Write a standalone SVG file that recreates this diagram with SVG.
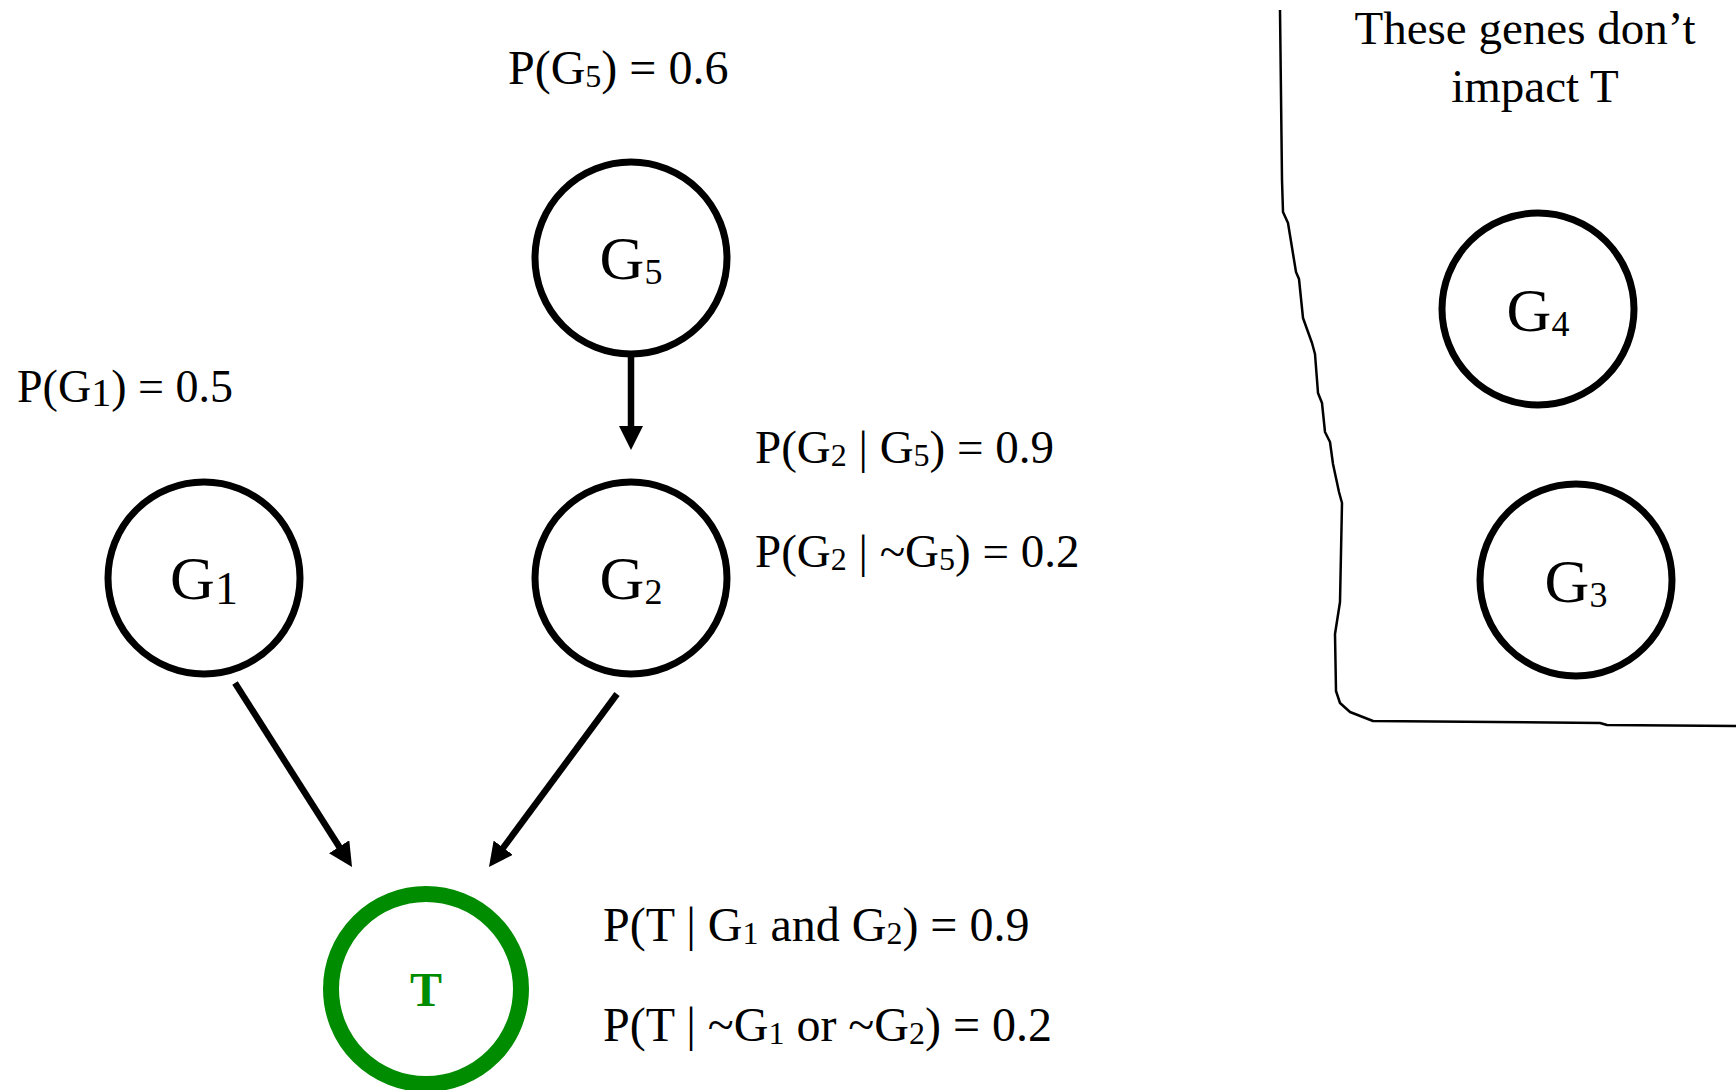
<svg xmlns="http://www.w3.org/2000/svg" width="1736" height="1090" viewBox="0 0 1736 1090">
<style>
  text { font-family: "Liberation Serif", "Times New Roman", serif; fill: #000; }
  .lbl { font-size: 48px; }
  .node { fill: #fff; stroke: #000; stroke-width: 7; }
  .nl { font-size: 62px; }
  .sub { font-size: 32px; }
  .nsub { font-size: 36px; }
  .edge { stroke: #000; stroke-width: 6.5; fill: none; }
</style>
<defs>
  <marker id="ah" viewBox="0 0 24 24" refX="4" refY="12" markerWidth="24" markerHeight="24" markerUnits="userSpaceOnUse" orient="auto">
    <path d="M0,0 L24,12 L0,24 z" fill="#000"/>
  </marker>
</defs>
<rect width="1736" height="1090" fill="#fff"/>

<g id="box">
  <path d="M1280,10 L1282,180 L1283,212 L1288,223 L1296,272 L1299,279 L1303,318 L1312,343 L1315,354 L1318,393 L1322,403 L1325,432 L1330,442 L1333,464 L1339,492 L1342,503 L1340,602 L1335,634 L1336,691 L1340,703 L1350,712 L1373,721 L1600,723 L1607,725 L1736,726" fill="none" stroke="#000" stroke-width="2.5" stroke-linejoin="round"/>
  <text x="1525" y="44" text-anchor="middle" style="font-size:47px">These genes don’t</text>
  <text x="1535" y="102" text-anchor="middle" style="font-size:47px">impact T</text>
</g>

<g id="connectors">
  <line class="edge" x1="631" y1="357" x2="631" y2="430" marker-end="url(#ah)"/>
  <line class="edge" x1="235" y1="683" x2="341.3" y2="850.1" marker-end="url(#ah)"/>
  <line class="edge" x1="617" y1="694" x2="500.9" y2="850.9" marker-end="url(#ah)"/>
</g>

<g id="G5">
  <circle class="node" cx="631" cy="258" r="96"/>
  <text class="nl" x="631" y="279" text-anchor="middle">G<tspan class="nsub" dy="5">5</tspan></text>
</g>
<g id="G1">
  <circle class="node" cx="204" cy="578" r="96"/>
  <text class="nl" x="204" y="599" text-anchor="middle">G<tspan style="font-size:46px" dy="5">1</tspan></text>
</g>
<g id="G2">
  <circle class="node" cx="631" cy="578" r="96"/>
  <text class="nl" x="631" y="599" text-anchor="middle">G<tspan class="nsub" dy="5">2</tspan></text>
</g>
<g id="T">
  <circle cx="426" cy="989" r="95" fill="#fff" stroke="#008C00" stroke-width="16"/>
  <text x="426" y="1006" text-anchor="middle" style="font-size:48px; font-weight:bold; fill:#008C00">T</text>
</g>
<g id="G4">
  <circle class="node" cx="1538" cy="309" r="96"/>
  <text class="nl" x="1538" y="331" text-anchor="middle">G<tspan class="nsub" dy="5">4</tspan></text>
</g>
<g id="G3">
  <circle class="node" cx="1576" cy="580" r="96"/>
  <text class="nl" x="1576" y="602" text-anchor="middle">G<tspan class="nsub" dy="5">3</tspan></text>
</g>

<g id="labels">
  <text class="lbl" x="508" y="84">P(G<tspan class="sub" dy="3">5</tspan><tspan dy="-3">) = 0.6</tspan></text>
  <text x="17" y="402" style="font-size:46px">P(G<tspan style="font-size:40px" dy="4">1</tspan><tspan dy="-4">) = 0.5</tspan></text>
  <text x="755" y="463" style="font-size:47px">P(G<tspan class="sub" dy="3">2</tspan><tspan dy="-3"> | G</tspan><tspan class="sub" dy="3">5</tspan><tspan dy="-3">) = 0.9</tspan></text>
  <text x="755" y="567" style="font-size:47px">P(G<tspan class="sub" dy="3">2</tspan><tspan dy="-3"> | ~G</tspan><tspan class="sub" dy="3">5</tspan><tspan dy="-3">) = 0.2</tspan></text>
  <text class="lbl" x="603" y="941">P(T | G<tspan class="sub" dy="3">1</tspan><tspan dy="-3"> and G</tspan><tspan class="sub" dy="3">2</tspan><tspan dy="-3">) = 0.9</tspan></text>
  <text class="lbl" x="603" y="1041">P(T | ~G<tspan class="sub" dy="3">1</tspan><tspan dy="-3"> or ~G</tspan><tspan class="sub" dy="3">2</tspan><tspan dy="-3">) = 0.2</tspan></text>
</g>
</svg>
